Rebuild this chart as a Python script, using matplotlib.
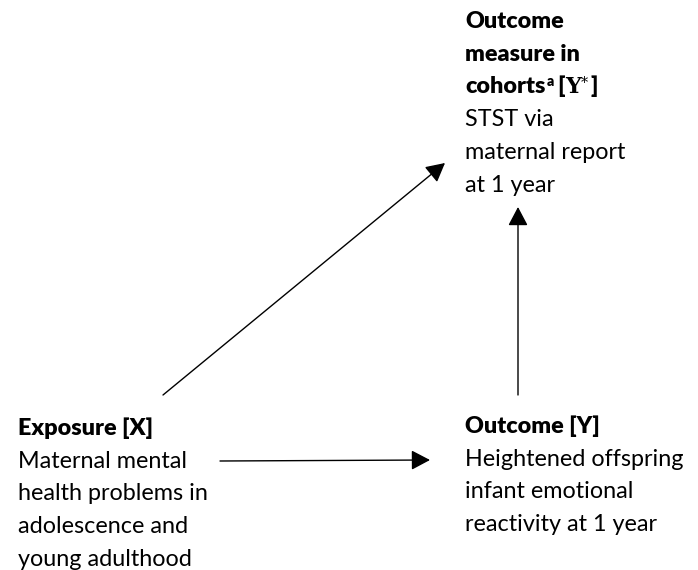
import matplotlib
matplotlib.use("Agg")
import matplotlib.pyplot as plt
from matplotlib.patches import FancyArrowPatch

# text of the three boxes (bold title lines, then plain lines)
top_bold = ["Outcome", "measure in"]
top_plain = ["STST via", "maternal report", "at 1 year"]
left_bold = ["Exposure [X]"]
left_plain = ["Maternal mental", "health problems in", "adolescence and", "young adulthood"]
right_bold = ["Outcome [Y]"]
right_plain = ["Heightened offspring", "infant emotional", "reactivity at 1 year"]

# node anchors (pixel space of the picture)
nodes = {
    "top": (465, 28),
    "left": (18, 435),
    "right": (465, 433),
}
arrows = [
    ((163, 395), (445, 163)),
    ((220, 461), (430, 460)),
    ((518, 395), (518, 207)),
]

FONT = "Lato"
FS = 16.8
STEP = 32.7
BOLD = "heavy"

fig = plt.figure(figsize=(6.98, 5.70), dpi=100)
ax = fig.add_axes([0, 0, 1, 1])
ax.set_xlim(0, 698)
ax.set_ylim(570, 0)
ax.axis("off")


def block(x, y, bold, plain):
    for i, s in enumerate(bold + plain):
        ax.text(x, y + i * STEP, s, fontsize=FS, family=FONT, va="baseline",
                fontweight=BOLD if i < len(bold) else "normal", color="black")


x0, y0 = nodes["top"]
block(x0, y0, top_bold, [])
# third title line with superscript and serif Y*
fig.canvas.draw()
r = fig.canvas.get_renderer()
inv = ax.transData.inverted()
yc = y0 + 2 * STEP


def put(x, y, s, **kw):
    t = ax.text(x, y, s, va="baseline", color="black", **kw)
    bb = t.get_window_extent(r)
    return inv.transform((bb.x1, bb.y0))[0]


x = put(x0, yc, "cohorts", fontsize=FS, family=FONT, fontweight=BOLD)
x = put(x + 1, yc - 7, "a", fontsize=FS * 0.6, family=FONT, fontweight=BOLD)
x = put(x + 4, yc, "[", fontsize=FS, family=FONT, fontweight=BOLD)
x = put(x, yc, "Y", fontsize=FS * 0.95, family="DejaVu Serif", fontweight="bold")
x = put(x, yc - 6, "*", fontsize=FS * 0.6, family="DejaVu Serif")
x = put(x + 2, yc, "]", fontsize=FS, family=FONT, fontweight=BOLD)
block(x0, y0 + 3 * STEP, [], top_plain)

block(*nodes["left"], left_bold, left_plain)
block(*nodes["right"], right_bold, right_plain)

for (p, q) in arrows:
    ax.add_patch(FancyArrowPatch(p, q, arrowstyle="-|>,head_length=0.72,head_width=0.38",
                                 mutation_scale=16, lw=1.0, color="black",
                                 shrinkA=0, shrinkB=0))

fig.savefig("out.png", dpi=100)
